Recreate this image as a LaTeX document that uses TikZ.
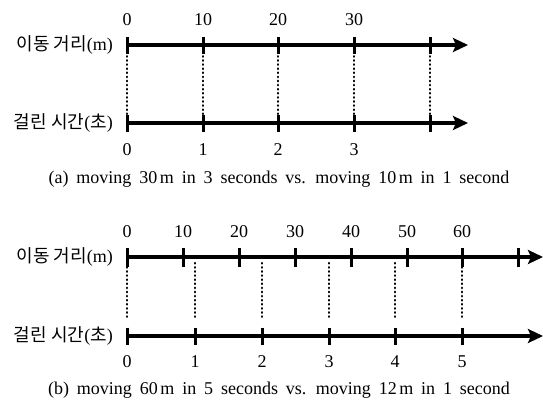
\documentclass[tikz,border=0pt]{standalone}
\usepackage{fontspec}
\setmainfont{Liberation Serif}
\newfontfamily\krfont{Noto Sans CJK KR}
\usetikzlibrary{arrows.meta}
\newcommand{\capspace}{\spaceskip=7.9pt plus 0pt minus 0pt\relax}
\begin{document}
\begin{tikzpicture}[x=1pt,y=-1pt,
  axisline/.style={line width=4.5pt,-{Stealth[length=15pt,width=14pt,inset=3pt]}},
  tickmark/.style={line width=3pt},
  guide/.style={line width=2.2pt,line cap=round,dash pattern=on 0.6pt off 3.5pt},
  num/.style={font=\fontsize{18}{18}\selectfont,inner sep=0pt},
  lab/.style={font=\fontsize{18}{18}\selectfont,inner sep=0pt,anchor=east},
  captext/.style={font=\fontsize{18}{18}\selectfont,inner sep=0pt}]
\useasboundingbox (0,0) rectangle (543,399);

% ---------- panel (a) ----------
\node[lab] (la1) at (113,45) {\krfont 이동 거리\rmfamily(m)};
\node[lab] (la2) at (113,123) {\krfont 걸린 시간\rmfamily(\krfont 초\rmfamily)};
\coordinate (a1s) at (127,45);
\coordinate (a1e) at (468,45);
\coordinate (a2s) at (127,123);
\coordinate (a2e) at (468,123);
\draw[axisline] (a1s) -- (a1e);
\draw[axisline] (a2s) -- (a2e);
\foreach \i/\x in {0/127,1/203,2/278,3/354,4/430}{
  \coordinate (at\i t) at (\x,36.5);
  \coordinate (at\i b) at (\x,53.5);
  \coordinate (ab\i t) at (\x,114.5);
  \coordinate (ab\i b) at (\x,131.5);
  \draw[tickmark] (at\i t) -- (at\i b);
  \draw[tickmark] (ab\i t) -- (ab\i b);
  \coordinate (ag\i s) at (\x,52);
  \coordinate (ag\i e) at (\x,117);
  \draw[guide] (ag\i s) -- (ag\i e);
}
\foreach \i/\x/\t in {0/127/0,1/203/10,2/278/20,3/354/30}{
  \node[num] (an\i) at (\x,20) {\t};
}
\foreach \i/\x/\t in {0/127/0,1/203/1,2/278/2,3/354/3}{
  \node[num] (am\i) at (\x,150) {\t};
}
\node[captext] (capa) at (279,179) {\capspace (a) moving 30\hspace{2.5pt}m in 3 seconds vs. moving 10\hspace{2.5pt}m in 1 second};

% ---------- panel (b) ----------
\node[lab] (lb1) at (113,257) {\krfont 이동 거리\rmfamily(m)};
\node[lab] (lb2) at (113,336) {\krfont 걸린 시간\rmfamily(\krfont 초\rmfamily)};
\coordinate (b1s) at (127,257);
\coordinate (b1e) at (543,257);
\coordinate (b2s) at (127,336);
\coordinate (b2e) at (543,336);
\draw[axisline] (b1s) -- (b1e);
\draw[axisline] (b2s) -- (b2e);
\foreach \i/\x in {0/127,1/183,2/239,3/295,4/351,5/407,6/462,7/518}{
  \coordinate (bt\i t) at (\x,248);
  \coordinate (bt\i b) at (\x,266.5);
  \draw[tickmark] (bt\i t) -- (bt\i b);
}
\foreach \i/\x/\t in {0/127/0,1/183/10,2/239/20,3/295/30,4/351/40,5/407/50,6/462/60}{
  \node[num] (bn\i) at (\x,232) {\t};
}
\foreach \i/\x in {0/127,1/195,2/262,3/329,4/395,5/462}{
  \coordinate (bb\i t) at (\x,327.5);
  \coordinate (bb\i b) at (\x,345);
  \draw[tickmark] (bb\i t) -- (bb\i b);
  \coordinate (bg\i s) at (\x,263);
  \coordinate (bg\i e) at (\x,320);
  \draw[guide] (bg\i s) -- (bg\i e);
  \node[num] (bm\i) at (\x,362) {\i};
}
\node[captext] (capb) at (279,390) {\capspace (b) moving 60\hspace{2.5pt}m in 5 seconds vs. moving 12\hspace{2.5pt}m in 1 second};
\end{tikzpicture}
\end{document}
